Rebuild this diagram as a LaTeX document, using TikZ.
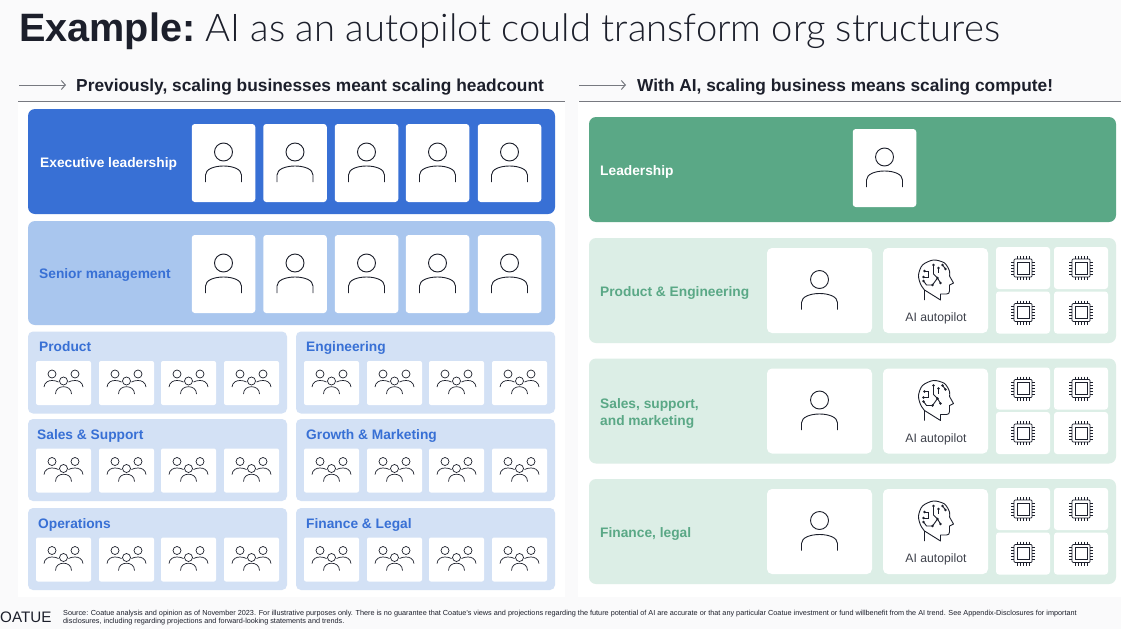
\documentclass[tikz,border=0pt]{standalone}
\usepackage{fontspec}
\setmainfont{Liberation Sans}
\newfontfamily\lightfont{Lato Light}
\usetikzlibrary{arrows.meta, positioning}
\definecolor{coatuepage}{RGB}{250,250,251}
\definecolor{coatueink}{RGB}{28,31,43}
\definecolor{execblue}{RGB}{56,112,213}
\definecolor{seniorblue}{RGB}{169,198,238}
\definecolor{teamblue}{RGB}{211,225,245}
\definecolor{leadgreen}{RGB}{90,168,134}
\definecolor{teamgreen}{RGB}{220,238,230}
\tikzset{
  panel/.style={fill=#1, rounded corners=7pt, inner sep=0pt, outer sep=0pt},
  card/.style={fill=white, rounded corners=3pt, inner sep=0pt, outer sep=0pt},
  icon/.style={draw=coatueink, line width=0.9pt},
  thinicon/.style={draw=coatueink, line width=0.7pt},
  label/.style={anchor=base west, inner sep=0pt, font=\fontsize{13.75}{16}\selectfont\bfseries},
  head/.style={anchor=base west, inner sep=0pt, text=coatueink, font=\fontsize{17.33}{20}\selectfont\bfseries},
  rulegray/.style={draw=coatueink!60, line width=1pt},
  person/.pic={
    \draw[icon] (0,-11) circle (9);
    \draw[icon] (-18,19) -- (-18,12) .. controls (-18,6) and (-9,3) .. (0,3) .. controls (9,3) and (18,6) .. (18,12) -- (18,19);
  },
  people/.pic={
    \draw[thinicon] (-11.5,-9) circle (4);
    \draw[thinicon] (11.5,-9) circle (4);
    \draw[thinicon] (0,-2) circle (4);
    \draw[thinicon] (-19.5,4) .. controls (-19,-1) and (-15,-2.5) .. (-11.5,-2.5) .. controls (-9,-2.5) and (-7,-2) .. (-5,-1);
    \draw[thinicon] (19.5,4) .. controls (19,-1) and (15,-2.5) .. (11.5,-2.5) .. controls (9,-2.5) and (7,-2) .. (5,-1);
    \draw[thinicon] (-8,11) .. controls (-8,6) and (-4,3.7) .. (0,3.7) .. controls (4,3.7) and (8,6) .. (8,11);
  },
  chip/.pic={
    \draw[thinicon, rounded corners=1pt] (-9,-9) rectangle (9,9);
    \draw[thinicon] (-6,-6) rectangle (6,6);
    \foreach \p in {-6,-3,0,3,6} {
      \draw[coatueink, line width=0.4pt] (\p,-12) -- (\p,-9);
      \draw[coatueink, line width=0.4pt] (\p,9) -- (\p,12);
      \draw[coatueink, line width=0.4pt] (-12,\p) -- (-9,\p);
      \draw[coatueink, line width=0.4pt] (9,\p) -- (12,\p);
    }
  },
  brain/.pic={
    \draw[icon, line join=round] (-11,20) -- (-11,10) plot[smooth] coordinates {(-11,10) (-15,4) (-17,-5) (-13,-15) (-2,-20) (9,-17) (14,-9) (14,-4)} -- (18,3) -- (14,5) -- (14,11) .. controls (14,13) and (13,14) .. (11,14) -- (5,14) -- (5,20) -- cycle;
    % circuit lines inside the skull
    \draw[icon] (-11,-9) -- (-7,-9) -- (-7,-3) -- (-12,-3);
    \draw[icon] (-2,-15) -- (-2,-6) -- (2,-2) -- (-3,5) -- (-9,5) -- (-12,1);
    \draw[icon] (3,-12) -- (3,-7);
    \draw[icon] (2,-2) -- (5,3);
    \draw[icon] (7,-15) -- (10,-11);
    \foreach \dx/\dy in {-11/-9,-12/-3,-2/-15,3/-12,5/3,-3/5,-12/1,7/-15,10/-11,2/-2} {
      \fill[coatueink] (\dx,\dy) circle (1.3);
    }
  }
}
\begin{document}
\begin{tikzpicture}[x=1pt, y=-1pt]
  \useasboundingbox (0,0) rectangle (1121,629);
  % page and the two white sheets
  \fill[coatuepage] (0,0) rectangle (1121,629);
  \fill[white] (18,101) rectangle (565,597);
  \fill[white] (578,101) rectangle (1121,597);
  % title
  \node[anchor=base west, inner sep=0pt, text=coatueink, font=\fontsize{39.6}{44}\selectfont\bfseries] (titlebold) at (19,41) {Example:};
  \node[anchor=base west, inner sep=0pt, text=coatueink, font=\fontsize{38.2}{44}\selectfont\lightfont] (titlelight) at (205,41) {AI as an autopilot could transform org structures};
  % section heads
  \coordinate (arrowLa) at (19,85);
  \coordinate (arrowLb) at (66,85);
  \coordinate (arrowRa) at (579,85);
  \coordinate (arrowRb) at (626,85);
  \coordinate (ruleLa) at (18,101);
  \coordinate (ruleLb) at (565,101);
  \coordinate (ruleRa) at (579,101);
  \coordinate (ruleRb) at (1121,101);
  \draw[rulegray, {Straight Barb[length=4pt,width=9pt]}-] (arrowLb) -- (arrowLa);
  \draw[rulegray, {Straight Barb[length=4pt,width=9pt]}-] (arrowRb) -- (arrowRa);
  \draw[rulegray] (ruleLa) -- (ruleLb);
  \draw[rulegray] (ruleRa) -- (ruleRb);
  \node[head] (headL) at (76,91) {Previously, scaling businesses meant scaling headcount};
  \node[head] (headR) at (637,91) {With AI, scaling business means scaling compute!};
  % exec and senior rows
  \node[panel=execblue, minimum width=527, minimum height=105] (execpanel) at (291.5,161.5) {};
  \node[panel=seniorblue, minimum width=527, minimum height=104] (seniorpanel) at (291.5,273) {};
  \node[label, text=white] (execlabel) at (40,167) {Executive leadership};
  \node[label, text=execblue] (seniorlabel) at (39,278) {Senior management};
  \foreach \x [count=\i] in {223.5,295,366.5,437.5,509.5} {
    \node[card, minimum width=63.5, minimum height=78] (exec\i) at (\x,163) {};
    \pic at (exec\i) {person};
    \node[card, minimum width=63.5, minimum height=78] (senior\i) at (\x,274) {};
    \pic at (senior\i) {person};
  }
  % teams grid
  \foreach \cx/\cy/\lx/\nm/\lab in {
    157.5/372.5/39/product/Product,
    425.5/372.5/306/engineering/Engineering,
    157.5/460/37/sales/Sales \& Support,
    425.5/460/306/growth/Growth \& Marketing,
    157.5/549/38/operations/Operations,
    425.5/549/306/finance/Finance \& Legal} {
    \node[panel=teamblue, minimum width=259, minimum height=82, rounded corners=5pt] (\nm) at (\cx,\cy) {};
    \node[label, text=execblue] (\nm label) at (\lx,\cy-21) {\lab};
    \foreach \off [count=\j] in {-94,-31,31,94} {
      \node[card, minimum width=55, minimum height=44, rounded corners=2pt] (\nm\j) at (\cx+\off,\cy+10.5) {};
      \pic at (\nm\j) {people};
    }
  }
  % right side
  \node[panel=leadgreen, minimum width=527, minimum height=105] (leadpanel) at (852.5,169.5) {};
  \node[label, text=white] (leadlabel) at (600,175) {Leadership};
  \node[card, minimum width=63.5, minimum height=78] (leadcard) at (884.5,168) {};
  \pic at (leadcard) {person};
  \foreach \cy/\nm in {290.5/prodeng,411/salesmkt,531.5/finlegal} {
    \node[panel=teamgreen, minimum width=527, minimum height=105] (\nm) at (852.5,\cy) {};
    \node[card, minimum width=105, minimum height=85, rounded corners=5pt] (\nm person) at (819.5,\cy) {};
    \pic at (\nm person) {person};
    \node[card, minimum width=105, minimum height=85, rounded corners=5pt] (\nm ai) at (935.5,\cy) {};
    \pic at (935.5,\cy-10.5) {brain};
    \node[inner sep=0pt, text=coatueink!85, font=\fontsize{12.2}{14}\selectfont] (\nm ailabel) at (936,\cy+28) {AI autopilot};
    \foreach \x/\k in {1023/a,1081/b} {
      \node[card, minimum width=54, minimum height=42] (\nm\k up) at (\x,\cy-22.5) {};
      \pic at (\nm\k up) {chip};
      \node[card, minimum width=54, minimum height=42] (\nm\k down) at (\x,\cy+22) {};
      \pic at (\nm\k down) {chip};
    }
  }
  \node[label, text=leadgreen] (prodenglabel) at (600,296) {Product \& Engineering};
  \node[label, text=leadgreen, align=left] (salesmktlabel) at (600,425) {Sales, support,\\[1pt]and marketing};
  \node[label, text=leadgreen] (finlegallabel) at (600,537) {Finance, legal};
  % footer
  \node[anchor=base west, inner sep=0pt, text=coatueink, font=\fontsize{15.2}{18}\selectfont] (logo) at (0,622.5) {OATUE};
  \node[anchor=base west, inner sep=0pt, text=coatueink, align=left, font=\fontsize{7.28}{8}\selectfont] (source) at (63,623.5) {Source: Coatue analysis and opinion as of November 2023. For illustrative purposes only. There is no guarantee that Coatue's views and projections regarding the future potential of AI are accurate or that any particular Coatue investment or fund willbenefit from the AI trend. See Appendix-Disclosures for important\\disclosures, including regarding projections and forward-looking statements and trends.};
\end{tikzpicture}
\end{document}
